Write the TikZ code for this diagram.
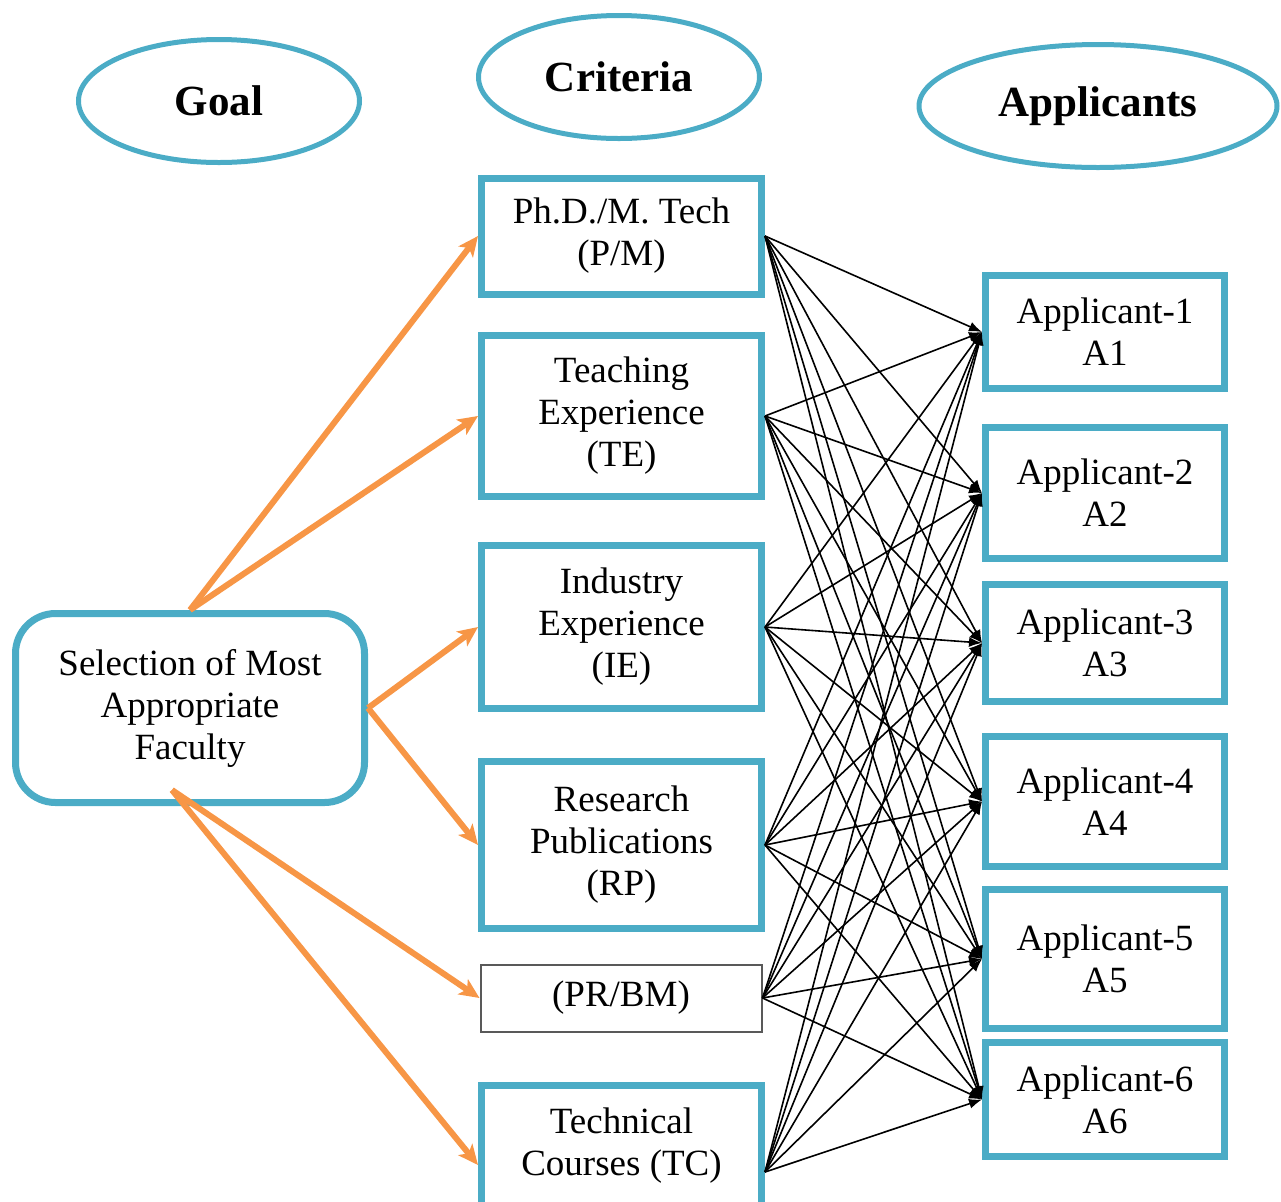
\documentclass[tikz,border=0pt]{standalone}
\usepackage{fontspec}
\setmainfont{Liberation Serif}
\usetikzlibrary{shapes.geometric,arrows.meta}
\definecolor{azul}{HTML}{4BACC6}
\definecolor{naranja}{HTML}{F79646}
\begin{document}
\begin{tikzpicture}[x=0.5pt,y=-0.5pt,
    titulo/.style={ellipse,draw=azul,line width=2.5pt,inner sep=0pt,
        minimum height=61.5pt,font=\fontsize{21.5}{26}\selectfont\bfseries},
    caja/.style={draw=azul,line width=3.5pt,inner sep=0pt,align=center,
        font=\fontsize{18.5}{21}\selectfont},
    criterio/.style={caja,minimum width=140pt},
    aspirante/.style={caja,minimum width=119.5pt},
    enlace/.style={black,line width=0.8pt,-{Latex[length=6.5pt,width=5pt]}},
    flecha/.style={naranja,line width=3pt,-{Stealth[length=10pt,width=9pt,inset=2.5pt]}}]
    \useasboundingbox (0,0) rectangle (1281,1201);

    % Encabezados
    \node[titulo,minimum width=140.5pt] (goal) at (219,101) {Goal};
    \node[titulo,minimum width=140.5pt] (crit) at (619,77) {Criteria};
    \node[titulo,minimum width=179pt] (apps) at (1098,106) {Applicants};

    % Objetivo
    \node[caja,rounded corners=20pt,minimum width=174.5pt,minimum height=94.5pt]
        (sel) at (190,708) {Selection of Most\\Appropriate\\Faculty};

    % Criterios
    \node[criterio,minimum height=58pt] (pm) at (621.5,236) {Ph.D./M. Tech\\(P/M)};
    \node[criterio,minimum height=80.5pt] (te) at (621.5,416) {Teaching\\Experience\\(TE)};
    \node[criterio,minimum height=81.5pt] (ie) at (621.5,627) {Industry\\Experience\\(IE)};
    \node[criterio,minimum height=83.5pt] (rp) at (621.5,845) {Research\\Publications\\(RP)};
    \node[criterio,draw=black!65,line width=1pt,minimum width=140.5pt,minimum height=33.5pt]
        (prbm) at (621,998) {(PR/BM)};
    \node[criterio,minimum height=60.5pt] (tc) at (621.5,1146) {Technical\\Courses (TC)};
    \coordinate (tcout) at ([yshift=-13pt]tc.east);

    % Aspirantes
    \node[aspirante,minimum height=56.5pt] (a1) at (1105,332) {Applicant-1\\A1};
    \node[aspirante,minimum height=65.5pt] (a2) at (1105,493) {Applicant-2\\A2};
    \node[aspirante,minimum height=58.5pt] (a3) at (1105,643) {Applicant-3\\A3};
    \node[aspirante,minimum height=65pt] (a4) at (1105,801.5) {Applicant-4\\A4};
    \node[aspirante,minimum height=69.5pt] (a5) at (1105,959) {Applicant-5\\A5};
    \node[aspirante,minimum height=57pt] (a6) at (1105,1099.5) {Applicant-6\\A6};

    % Flechas del objetivo a los criterios
    \coordinate (selbajo) at (172,790);
    \draw[flecha] (sel.north) -- (pm.west);
    \draw[flecha] (sel.north) -- (te.west);
    \draw[flecha] (sel.east) -- (ie.west);
    \draw[flecha] (sel.east) -- (rp.west);
    \draw[flecha] (selbajo) -- (prbm.west);
    \draw[flecha] (selbajo) -- ([yshift=-9.5pt]tc.west);

    % Enlaces de cada criterio a cada aspirante
    \foreach \c in {pm.east,te.east,ie.east,rp.east,prbm.east,tcout}
        \foreach \a in {a1,a2,a3,a4,a5,a6}
            \draw[enlace] (\c) -- (\a.west);
\end{tikzpicture}
\end{document}
